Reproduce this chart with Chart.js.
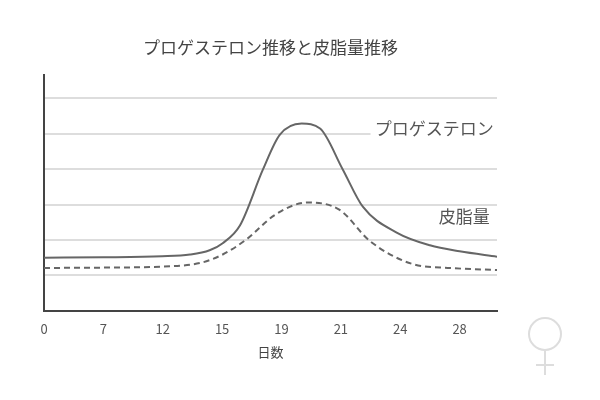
<!DOCTYPE html>
<html><head><meta charset="utf-8">
<script src="https://cdn.jsdelivr.net/npm/chart.js@4/dist/chart.umd.min.js"></script>
<style>html,body{margin:0;background:#fff}#wrap{width:600px;height:400px}</style>
</head><body><div id="wrap"><canvas id="c"></canvas></div>
<script>
// Tick labels (evenly spaced days)
const dayLabels = ['0', '7', '12', '15', '19', '21', '24', '28'];

// Progesterone curve (x in tick-slot units, y relative)
const progX = [0, 1, 1.99, 2.46, 2.79, 3.01, 3.30, 3.69, 3.97, 4.34, 4.65, 5.03, 5.37, 5.94, 6.5, 7.0, 7.63];
const progY = [1.5, 1.51, 1.54, 1.59, 1.71, 1.91, 2.41, 4.0, 4.97, 5.29, 5.15, 4.0, 2.94, 2.21, 1.85, 1.68, 1.53];

// Sebum curve
const sebumX = [0, 1, 1.99, 2.63, 3.01, 3.42, 3.89, 4.44, 4.98, 5.49, 6.21, 6.84, 7.63];
const sebumY = [1.21, 1.22, 1.25, 1.35, 1.59, 2.03, 2.71, 3.06, 2.85, 1.97, 1.32, 1.21, 1.15];

const pts = (xs, ys) => xs.map((x, i) => ({ x: x, y: ys[i] }));

const labelPlugin = {
    id: 'labels',
    afterDatasetsDraw(chart) {
        const ctx = chart.ctx;
        const xs = chart.scales.x, ys = chart.scales.y;
        ctx.save();
        ctx.font = "17px 'Noto Sans CJK JP'";
        ctx.textBaseline = 'middle';
        ctx.fillStyle = '#fff';
        ctx.fillRect(xs.getPixelForValue(5.5), ys.getPixelForValue(5.5), 130, 28);
        ctx.fillStyle = '#555';
        ctx.fillText('プロゲステロン', xs.getPixelForValue(5.57), ys.getPixelForValue(5.15));
        ctx.fillText('皮脂量', xs.getPixelForValue(6.65), ys.getPixelForValue(2.65));
        // female symbol
        ctx.strokeStyle = '#ddd';
        ctx.lineWidth = 2;
        ctx.beginPath();
        ctx.arc(545, 334, 16, 0, Math.PI * 2);
        ctx.moveTo(545, 350); ctx.lineTo(545, 375);
        ctx.moveTo(536, 365); ctx.lineTo(554, 365);
        ctx.stroke();
        ctx.restore();
    }
};

new Chart(document.getElementById('c'), {
    type: 'line',
    data: {
        datasets: [
            { label: 'プロゲステロン', data: pts(progX, progY), borderColor: '#666', borderWidth: 2, cubicInterpolationMode: 'monotone', pointRadius: 0, fill: false },
            { label: '皮脂量', data: pts(sebumX, sebumY), borderColor: '#666', borderWidth: 2, borderDash: [6, 4], cubicInterpolationMode: 'monotone', pointRadius: 0, fill: false }
        ]
    },
    options: {
        responsive: true,
        maintainAspectRatio: false,
        animation: false,
        layout: { padding: { left: 44, right: 103, top: 0, bottom: 36 } },
        plugins: {
            legend: { display: false },
            tooltip: { enabled: false },
            title: {
                display: true,
                text: 'プロゲステロン推移と皮脂量推移',
                color: '#444',
                font: { family: "'Noto Sans CJK JP'", size: 17, weight: 'normal' },
                padding: { top: 37, bottom: 18 }
            }
        },
        scales: {
            x: {
                type: 'linear', min: 0, max: 7.63,
                afterBuildTicks: s => { s.ticks = dayLabels.map((_, i) => ({ value: i })); },
                grid: { display: false },
                border: { color: '#444', width: 2 },
                ticks: {
                    color: '#555', padding: 2, autoSkip: false, maxRotation: 0,
                    font: { family: "'Noto Sans CJK JP'", size: 13 },
                    callback: v => dayLabels[v]
                },
                title: { display: true, text: '日数', color: '#444', font: { family: "'Noto Sans CJK JP'", size: 13 }, padding: { top: 6 } }
            },
            y: {
                min: 0, max: 6.65,
                ticks: { display: false, stepSize: 1 },
                border: { color: '#444', width: 2 },
                grid: {
                    drawTicks: false, lineWidth: 2,
                    color: c => (c.tick && Number.isInteger(c.tick.value) && c.tick.value > 0) ? '#ddd' : 'rgba(0,0,0,0)'
                }
            }
        }
    },
    plugins: [labelPlugin]
});
</script></body></html>
